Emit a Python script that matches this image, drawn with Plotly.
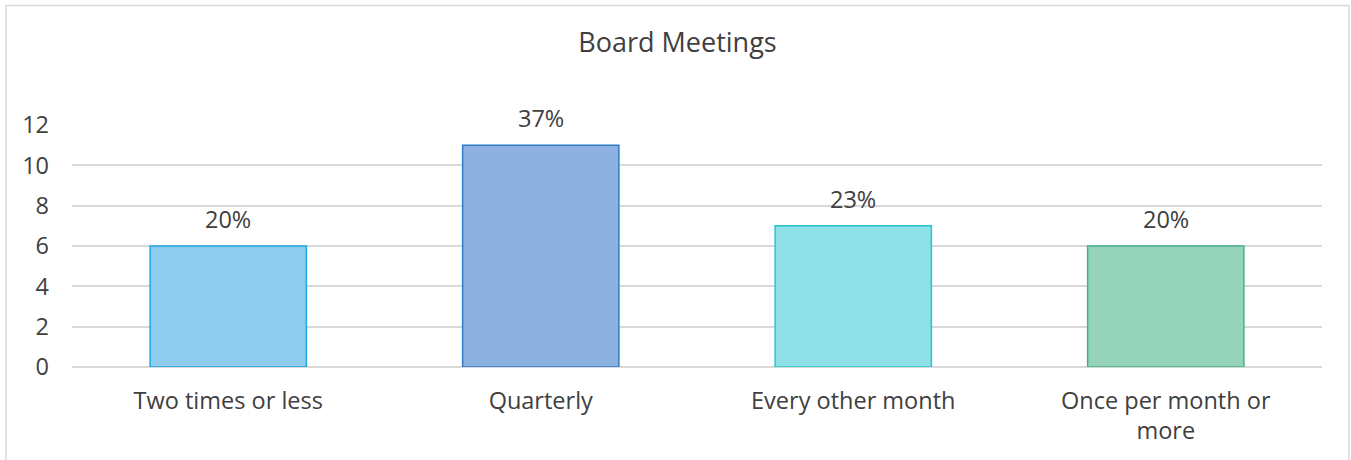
import plotly.graph_objects as go

categories = ["Two times or less", "Quarterly", "Every other month", "Once per month or<br>more"]
values = [6, 11, 7, 6]
pct_labels = ["20%", "37%", "23%", "20%"]
y_ticks = [0, 2, 4, 6, 8, 10, 12]

fill_colors = ["#8ECBEF", "#8DB2E2", "#8FE0E7", "#95D4BB"]
line_colors = ["#1FA8E0", "#2E7CC4", "#27C4CF", "#45B08B"]

FONT = "Open Sans"
TXT = "#404040"
TICK_SIZE = 23.5

fig = go.Figure(
    go.Bar(
        x=categories,
        y=values,
        width=0.5,
        marker=dict(color=fill_colors, line=dict(color=line_colors, width=1.5)),
        hoverinfo="x+y",
    )
)

for cat, val, lab in zip(categories, values, pct_labels):
    fig.add_annotation(
        x=cat,
        y=val,
        text=lab,
        showarrow=False,
        yanchor="bottom",
        yshift=9,
        font=dict(size=TICK_SIZE, color=TXT, family=FONT),
    )

L, R, T, B = 71.5, 28.5, 125, 93
W, H = 1351, 460
pw, ph = W - L - R, H - T - B

fig.update_layout(
    width=W,
    height=H,
    margin=dict(l=L, r=R, t=T, b=B, autoexpand=False),
    paper_bgcolor="white",
    plot_bgcolor="white",
    showlegend=False,
    title=dict(
        text="Board Meetings",
        x=677.5 / W,
        xref="container",
        xanchor="center",
        y=1 - 43 / H,
        yanchor="middle",
        font=dict(size=27, color=TXT, family=FONT),
    ),
    font=dict(family=FONT, color=TXT),
    bargap=0.5,
)
fig.update_xaxes(
    showgrid=False,
    showline=False,
    ticks="",
    automargin=False,
    tickfont=dict(size=TICK_SIZE, color=TXT, family=FONT),
    ticklabelstandoff=17,
)
fig.update_yaxes(
    range=[0, 12],
    tickvals=y_ticks,
    showgrid=True,
    gridcolor="#D9D9D9",
    gridwidth=1.5,
    zeroline=True,
    zerolinecolor="#D9D9D9",
    zerolinewidth=2,
    showline=False,
    ticks="",
    automargin=False,
    tickfont=dict(size=TICK_SIZE, color=TXT, family=FONT),
    ticklabelstandoff=22,
)
fig.add_shape(
    type="rect",
    xref="paper",
    yref="paper",
    x0=(5.5 - L) / pw,
    x1=(1349.5 - L) / pw,
    y0=1 - (470 - T) / ph,
    y1=1 - (5.5 - T) / ph,
    line=dict(color="#D9D9D9", width=1.5),
    fillcolor="rgba(0,0,0,0)",
    layer="below",
)

fig.write_html(
    "out.html",
    config={"displayModeBar": False},
    post_script="document.body.style.margin='0';document.body.style.overflow='hidden';",
)
